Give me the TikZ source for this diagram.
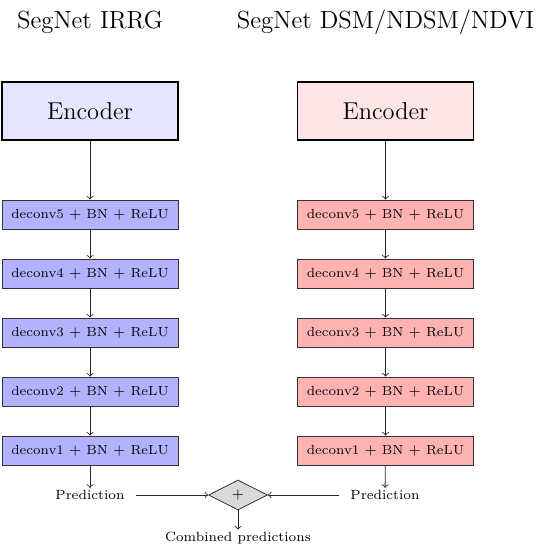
\documentclass[tikz,border=0pt]{standalone}
\usetikzlibrary{shapes.geometric}
\begin{document}
\begin{tikzpicture}[x=0.5pt,y=-0.5pt,
  title/.style={font=\fontsize{12.4}{15}\selectfont, inner sep=0pt},
  encL/.style={draw=black, thick, fill=blue!10, minimum width=88pt, minimum height=29pt, font=\fontsize{12.2}{15}\selectfont, inner sep=0pt},
  encR/.style={encL, fill=red!10},
  decL/.style={draw=black!80, fill=blue!30, minimum width=88pt, minimum height=14.5pt, font=\fontsize{6.6}{8}\selectfont, inner sep=0pt},
  decR/.style={decL, fill=red!30},
  lbl/.style={font=\fontsize{6.7}{8}\selectfont, inner sep=1pt},
  comb/.style={shape=diamond, draw=black!80, fill=gray!30, minimum width=29.5pt, minimum height=15pt, inner sep=0pt, font=\scriptsize},
  arr/.style={->, black!85}]
\useasboundingbox (0,0) rectangle (546,555);
\node[title] (tL) at (90,22) {SegNet IRRG};
\node[title] (tR) at (385.5,22) {SegNet DSM/NDSM/NDVI};
\node[encL] (eL) at (90,111) {Encoder};
\node[encR] (eR) at (385.5,111) {Encoder};
\foreach \n/\y in {5/214.5,4/273.5,3/332.5,2/391.5,1/450.5}{
  \node[decL] (dL\n) at (90,\y) {deconv\n\ $+$ BN $+$ ReLU};
  \node[decR] (dR\n) at (385.5,\y) {deconv\n\ $+$ BN $+$ ReLU};
}
\node[lbl] (pL) at (90,495) {Prediction};
\node[lbl] (pR) at (385,495) {Prediction};
\node[comb] (c) at (238,495) {$+$};
\node[lbl] (cp) at (238,538) {Combined predictions};
\draw[arr] (eL) -- (dL5);
\draw[arr] (eR) -- (dR5);
\foreach \a/\b in {5/4,4/3,3/2,2/1}{
  \draw[arr] (dL\a) -- (dL\b);
  \draw[arr] (dR\a) -- (dR\b);
}
\draw[arr] (dL1) -- (pL);
\draw[arr] (dR1) -- (pR);
\path (pL.east) ++(9,0) coordinate (pLe);
\path (pR.west) ++(-9,0) coordinate (pRw);
\draw[arr] (pLe) -- (c.west);
\draw[arr] (pRw) -- (c.east);
\draw[arr] (c.south) -- (cp);
\end{tikzpicture}
\end{document}
